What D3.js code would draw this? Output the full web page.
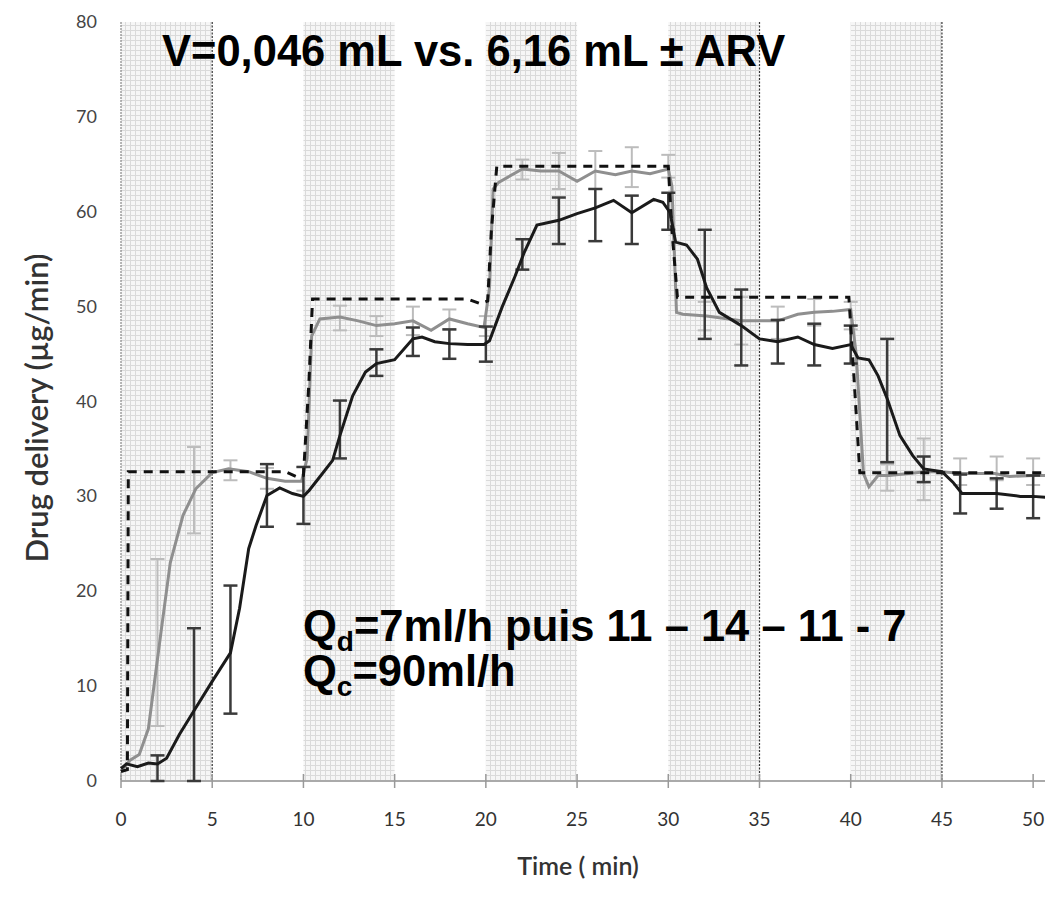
<!DOCTYPE html>
<meta charset="utf-8">
<html>
  <head>
    <script src="https://d3js.org/d3.v7.min.js"></script>
    <style>
      body { margin: 0; background: white; }
      svg { display: block; }
    </style>
  </head>
  <body>
    <div id="chart"></div>
    <script>
      // time (min) for each series
      const targetT = [0, 0.35, 0.4, 9.0, 9.7, 10.0, 10.3, 10.5, 19.0, 19.7, 20.1, 20.3, 20.6, 30.0, 30.2, 30.5, 39.9, 40.1, 40.5, 50.7];
      const targetV = [1.0, 1.2, 32.6, 32.6, 32.0, 32.2, 42, 50.8, 50.8, 50.3, 50.6, 58, 64.8, 64.8, 58, 51.0, 51.0, 45, 32.5, 32.5];

      const grayT = [0, 0.5, 1.0, 1.5, 2.2, 2.7, 3.4, 4.1, 5.0, 5.9, 7.0, 8.0, 9.0, 9.9, 10.2, 10.45, 10.9, 12.0, 13.0, 14.0, 15.0, 16.0, 17.0, 18.0, 19.0, 19.9, 20.2, 20.4, 20.7, 22.0, 23.0, 24.0, 25.0, 26.0, 27.1, 28.0, 29.0, 30.0, 30.2, 30.45, 30.8, 32.1, 34.0, 36.0, 37.1, 38.0, 39.0, 40.0, 40.3, 40.7, 41.0, 41.5, 42.1, 44.1, 45.0, 46.1, 47.9, 48.7, 50.0, 50.7];
      const grayV = [1.0, 2.2, 2.8, 5.5, 15.8, 23.0, 28.0, 30.8, 32.5, 32.9, 32.6, 31.9, 31.6, 31.6, 34, 46.9, 48.7, 48.9, 48.5, 48.0, 48.2, 48.5, 47.5, 48.7, 48.2, 47.8, 52, 62.4, 63.1, 64.5, 64.3, 64.3, 63.2, 64.3, 63.9, 64.3, 64.0, 64.5, 62.7, 49.4, 49.2, 49.0, 48.5, 48.5, 49.2, 49.4, 49.5, 49.7, 45, 32.4, 31.0, 32.2, 32.2, 32.6, 32.6, 32.4, 32.4, 32.1, 32.2, 32.2];

      const blackT = [0, 0.3, 0.9, 1.5, 2.0, 2.5, 3.2, 4.0, 5.0, 6.0, 6.5, 7.0, 7.4, 8.0, 8.7, 9.4, 10.0, 10.3, 11.0, 11.6, 12.0, 12.7, 13.4, 14.0, 15.0, 16.0, 16.5, 17.2, 18.0, 19.0, 19.9, 20.2, 20.9, 21.6, 22.1, 22.8, 23.5, 24.0, 25.0, 26.0, 27.0, 28.0, 29.2, 29.7, 30.1, 30.4, 31.0, 31.6, 32.1, 32.8, 34.0, 35.0, 36.0, 37.1, 38.0, 39.0, 40.0, 40.4, 41.0, 41.5, 42.0, 42.7, 43.4, 44.0, 45.0, 45.6, 46.1, 47.0, 48.0, 49.3, 50.0, 50.7];
      const blackV = [1.3, 1.8, 1.5, 1.9, 1.8, 2.4, 4.9, 7.4, 10.5, 13.5, 18.2, 24.5, 26.9, 30.1, 30.9, 30.3, 30.0, 30.6, 32.3, 33.8, 36.4, 40.6, 43.1, 44.0, 44.4, 46.6, 46.8, 46.3, 46.1, 46.0, 46.0, 46.4, 50.0, 53.2, 55.7, 58.6, 58.9, 59.1, 59.8, 60.4, 61.2, 59.9, 61.3, 61.0, 59.9, 56.8, 56.5, 55.0, 52.0, 49.4, 48.0, 46.6, 46.3, 46.8, 46.0, 45.6, 46.0, 44.6, 44.4, 42.7, 40.3, 36.4, 34.3, 32.9, 32.6, 31.5, 30.3, 30.3, 30.3, 30.0, 30.0, 29.9];

      // error bars (every 2 min)
      const errT = [2, 4, 6, 8, 10, 12, 14, 16, 18, 20, 22, 24, 26, 28, 30, 32, 34, 36, 38, 40, 42, 44, 46, 48, 50];
      const grayErrLo = [5.8, 26.1, 31.7, 30.8, 30.6, 47.5, 46.9, 47.0, 47.6, 46.9, 63.4, 62.4, 62.4, 62.6, 63.6, 47.5, 46.0, 46.6, 48.0, 47.6, 30.6, 29.6, 31.2, 31.7, 31.2];
      const grayErrHi = [23.4, 35.2, 33.8, 33.0, 33.1, 50.1, 49.0, 50.0, 49.7, 49.0, 65.5, 66.2, 66.4, 66.8, 66.0, 50.5, 51.0, 50.0, 50.8, 50.5, 33.4, 36.1, 34.0, 34.2, 34.0];
      const blackErrLo = [0, 0, 7.1, 26.8, 27.1, 34.0, 42.7, 44.8, 44.5, 44.2, 53.9, 56.6, 56.9, 56.6, 58.1, 46.6, 43.8, 44.0, 43.8, 44.0, 33.6, 31.5, 28.2, 28.7, 27.7];
      const blackErrHi = [2.7, 16.1, 20.6, 33.4, 33.1, 40.1, 45.5, 47.8, 47.6, 47.9, 57.1, 61.5, 62.4, 61.7, 62.0, 58.1, 51.8, 48.6, 48.2, 48.0, 46.6, 34.2, 32.3, 31.9, 32.2];

      // shaded periods (start, end)
      const bandStart = [0, 10, 20, 30, 40];
      const bandEnd = [5, 15, 25, 35, 45];
      const dottedLines = [5, 35, 45];

      const xTicks = d3.range(0, 51, 5);
      const yTicks = d3.range(0, 81, 10);

      const width = 1045, height = 898;
      const x = d3.scaleLinear().domain([0, 50.65]).range([121, 1045]);
      const y = d3.scaleLinear().domain([0, 80]).range([781, 22]);

      const svg = d3.select('#chart').append('svg')
        .attr('width', width)
        .attr('height', height);

      const defs = svg.append('defs');
      const pat = defs.append('pattern')
        .attr('id', 'grid')
        .attr('patternUnits', 'userSpaceOnUse')
        .attr('width', 5).attr('height', 5);
      pat.append('rect').attr('width', 5).attr('height', 5).attr('fill', '#f6f6f6');
      pat.append('path').attr('d', 'M0,0.5H5M0.5,0V5')
        .attr('stroke', '#dadada').attr('stroke-width', 1);

      // bands
      svg.selectAll('rect.band')
        .data(bandStart)
        .enter().append('rect')
        .attr('class', 'band')
        .attr('x', (d) => x(d))
        .attr('y', y(80))
        .attr('width', (d, i) => x(bandEnd[i]) - x(d))
        .attr('height', y(0) - y(80))
        .attr('fill', 'url(#grid)');

      // left edge
      svg.append('line')
        .attr('x1', x(0)).attr('x2', x(0))
        .attr('y1', y(80)).attr('y2', y(0))
        .attr('stroke', '#888').attr('stroke-width', 1.2)
        .attr('stroke-dasharray', '2,1');

      svg.selectAll('line.dotv')
        .data(dottedLines)
        .enter().append('line')
        .attr('class', 'dotv')
        .attr('x1', (d) => x(d)).attr('x2', (d) => x(d))
        .attr('y1', y(80)).attr('y2', y(0))
        .attr('stroke', '#333').attr('stroke-width', 1.2)
        .attr('stroke-dasharray', '2,1.5');

      // x axis
      const xAxis = svg.append('g').attr('transform', `translate(0,${y(0)})`);
      xAxis.append('line')
        .attr('x1', x(0)).attr('x2', width)
        .attr('stroke', '#aaa').attr('stroke-width', 2);
      xAxis.selectAll('line.tick')
        .data(xTicks)
        .enter().append('line')
        .attr('class', 'tick')
        .attr('x1', (d) => x(d)).attr('x2', (d) => x(d))
        .attr('y1', -7).attr('y2', 7)
        .attr('stroke', '#999').attr('stroke-width', 1.5);
      xAxis.selectAll('text')
        .data(xTicks)
        .enter().append('text')
        .attr('x', (d) => x(d))
        .attr('y', 45)
        .attr('text-anchor', 'middle')
        .attr('font-family', 'Lato, sans-serif')
        .attr('font-size', 19)
        .attr('fill', '#333')
        .text((d) => d);

      // y tick labels
      svg.selectAll('text.ylab')
        .data(yTicks)
        .enter().append('text')
        .attr('class', 'ylab')
        .attr('x', 97)
        .attr('y', (d) => y(d) + 6)
        .attr('text-anchor', 'end')
        .attr('font-family', 'Lato, sans-serif')
        .attr('font-size', 18)
        .attr('fill', '#444')
        .text((d) => d);

      // axis titles
      svg.append('text')
        .attr('x', 578).attr('y', 875)
        .attr('text-anchor', 'middle')
        .attr('font-family', 'Lato, sans-serif')
        .attr('font-weight', 600)
        .attr('font-size', 25)
        .attr('fill', '#333')
        .text('Time ( min)');
      svg.append('text')
        .attr('transform', 'translate(48,408) rotate(-90)')
        .attr('text-anchor', 'middle')
        .attr('font-family', 'Lato, sans-serif')
        .attr('font-weight', 600)
        .attr('font-size', 31)
        .attr('fill', '#333')
        .text('Drug delivery (µg/min)');

      const line = d3.line().x((d) => x(d[0])).y((d) => y(d[1]));

      // error bars
      function errBars(lo, hi, color, w) {
        const g = svg.append('g').attr('stroke', color).attr('stroke-width', w).attr('fill', 'none');
        errT.forEach((t, i) => {
          g.append('line').attr('x1', x(t)).attr('x2', x(t)).attr('y1', y(lo[i])).attr('y2', y(hi[i]));
          g.append('line').attr('x1', x(t) - 7).attr('x2', x(t) + 7).attr('y1', y(lo[i])).attr('y2', y(lo[i]));
          g.append('line').attr('x1', x(t) - 7).attr('x2', x(t) + 7).attr('y1', y(hi[i])).attr('y2', y(hi[i]));
        });
      }
      errBars(grayErrLo, grayErrHi, '#bcbcbc', 2);

      svg.append('path')
        .datum(d3.zip(grayT, grayV))
        .attr('d', line)
        .attr('fill', 'none')
        .attr('stroke', '#8f8f8f')
        .attr('stroke-width', 3);

      errBars(blackErrLo, blackErrHi, '#3a3a3a', 2.5);

      svg.append('path')
        .datum(d3.zip(targetT, targetV))
        .attr('d', line)
        .attr('fill', 'none')
        .attr('stroke', '#111')
        .attr('stroke-width', 3)
        .attr('stroke-dasharray', '9,7');

      svg.append('path')
        .datum(d3.zip(blackT, blackV))
        .attr('d', line)
        .attr('fill', 'none')
        .attr('stroke', '#1a1a1a')
        .attr('stroke-width', 3);

      // annotations
      svg.append('text')
        .attr('x', 162).attr('y', 66)
        .attr('font-family', 'Liberation Sans, Arial, sans-serif')
        .attr('font-weight', 'bold')
        .attr('font-size', 43.5)
        .attr('fill', '#000')
        .text('V=0,046 mL vs. 6,16 mL ± ARV');

      const q1 = svg.append('text')
        .attr('x', 303).attr('y', 641)
        .attr('font-family', 'Liberation Sans, Arial, sans-serif')
        .attr('font-weight', 'bold')
        .attr('font-size', 43.5)
        .attr('fill', '#000');
      q1.append('tspan').text('Q');
      q1.append('tspan').attr('dy', 10).attr('font-size', 28).text('d');
      q1.append('tspan').attr('dy', -10).text('=7ml/h puis 11 – 14 – 11 - 7');

      const q2 = svg.append('text')
        .attr('x', 303).attr('y', 686)
        .attr('font-family', 'Liberation Sans, Arial, sans-serif')
        .attr('font-weight', 'bold')
        .attr('font-size', 43.5)
        .attr('fill', '#000');
      q2.append('tspan').text('Q');
      q2.append('tspan').attr('dy', 10).attr('font-size', 28).text('c');
      q2.append('tspan').attr('dy', -10).text('=90ml/h');
    </script>
  </body>
</html>
